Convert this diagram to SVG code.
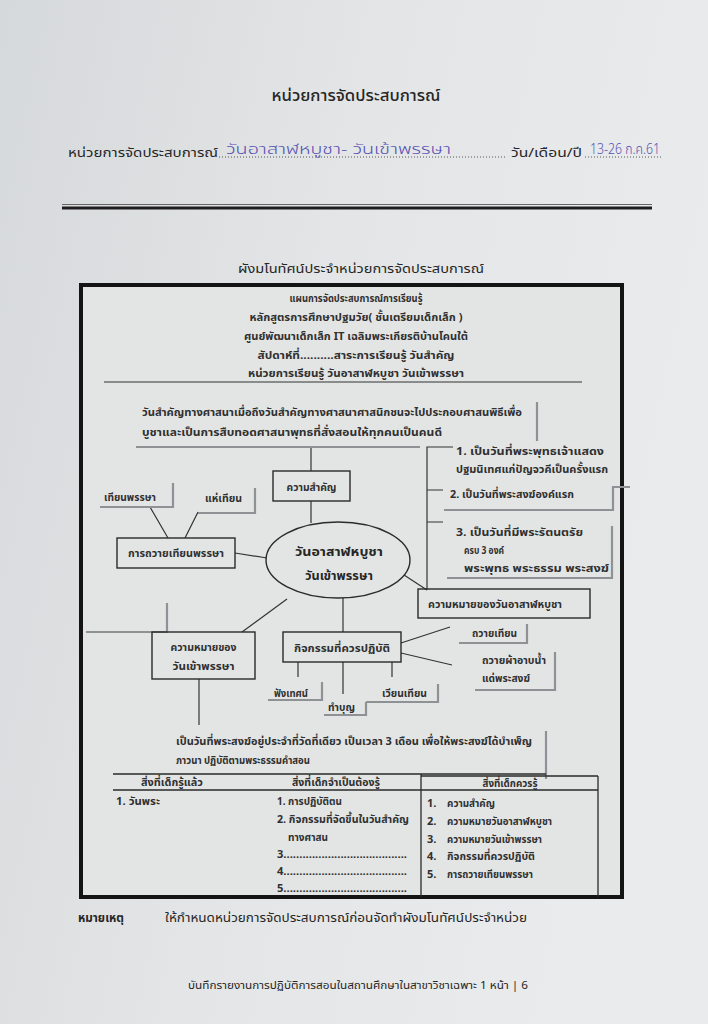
<svg xmlns="http://www.w3.org/2000/svg" width="708" height="1024" viewBox="0 0 708 1024">
<defs>
<linearGradient id="paper" x1="0" y1="0" x2="1" y2="0.3">
<stop offset="0" stop-color="#d6d9db"/>
<stop offset="0.5" stop-color="#e3e5e6"/>
<stop offset="1" stop-color="#eaebec"/>
</linearGradient>
<style>
text{font-family:"Noto Sans Thai","Noto Sans Thai UI","Loma","Garuda","Tlwg Typo","Norasi","DejaVu Sans","Noto Sans",sans-serif;fill:#262626}
.h{font-size:16px;font-weight:500}
.m{font-size:13px}
.b{font-size:11px;font-weight:bold;fill:#303030}
.c{font-size:12.5px;font-weight:bold;fill:#262626}
.hw{font-size:14px;font-weight:300;fill:#5450b2}
.node{fill:none;stroke:#2a2a2a;stroke-width:1.4}
.conn{fill:none;stroke:#333;stroke-width:1.2}
.sh{fill:none;stroke:#8f9295;stroke-width:2.2}
.tl{fill:none;stroke:#2a2a2a;stroke-width:1.3}
</style>
</defs>
<rect width="708" height="1024" fill="url(#paper)"/>

<g id="page-header">
<text class="h" x="356" y="101" text-anchor="middle" textLength="169" lengthAdjust="spacingAndGlyphs">หน่วยการจัดประสบการณ์</text>
<text class="m" x="68" y="157" textLength="150" lengthAdjust="spacingAndGlyphs">หน่วยการจัดประสบการณ์</text>
<line x1="219" y1="157" x2="506" y2="157" stroke="#555" stroke-width="1" stroke-dasharray="1 2"/>
<text class="hw" x="226" y="154" textLength="225" lengthAdjust="spacingAndGlyphs">วันอาสาฬหบูชา- วันเข้าพรรษา</text>
<text class="m" x="511" y="157" textLength="71" lengthAdjust="spacingAndGlyphs">วัน/เดือน/ปี</text>
<line x1="585" y1="157" x2="662" y2="157" stroke="#555" stroke-width="1" stroke-dasharray="1 2"/>
<text class="hw" x="590" y="154" textLength="70" lengthAdjust="spacingAndGlyphs">13-26 ก.ค.61</text>
<line x1="62" y1="204.5" x2="652" y2="204.5" stroke="#666" stroke-width="1"/>
<line x1="62" y1="208" x2="652" y2="208" stroke="#1e1e1e" stroke-width="3"/>
<text class="m" x="361" y="273" text-anchor="middle" textLength="246" lengthAdjust="spacingAndGlyphs">ผังมโนทัศน์ประจำหน่วยการจัดประสบการณ์</text>
</g>

<g id="frame">
<rect x="81" y="285" width="541" height="612" fill="#e3e5e5" stroke="#141414" stroke-width="4"/>
</g>

<g id="plan-header">
<text class="b" x="356" y="302" text-anchor="middle" textLength="133" lengthAdjust="spacingAndGlyphs">แผนการจัดประสบการณ์การเรียนรู้</text>
<text class="b" x="356" y="321" text-anchor="middle" textLength="213" lengthAdjust="spacingAndGlyphs">หลักสูตรการศึกษาปฐมวัย( ชั้นเตรียมเด็กเล็ก )</text>
<text class="b" x="356" y="340" text-anchor="middle" textLength="224" lengthAdjust="spacingAndGlyphs">ศูนย์พัฒนาเด็กเล็ก IT เฉลิมพระเกียรติบ้านโคนใต้</text>
<text class="b" x="356" y="359" text-anchor="middle" textLength="197" lengthAdjust="spacingAndGlyphs">สัปดาห์ที่..........สาระการเรียนรู้    วันสำคัญ</text>
<text class="b" x="356" y="377" text-anchor="middle" textLength="216" lengthAdjust="spacingAndGlyphs">หน่วยการเรียนรู้  วันอาสาฬหบูชา  วันเข้าพรรษา</text>
<line x1="104" y1="382" x2="582" y2="382" stroke="#333" stroke-width="1.2"/>
</g>

<g id="connectors">
<path class="conn" d="M311 447 V471 M311 501 V523"/>
<path class="conn" d="M453 447 H427 V590 M427 490 H443 M427 522 H443"/>
<path class="conn" d="M404 575 L427 590"/>
<path class="conn" d="M150 507 L168 538 M198 512 L185 538"/>
<path class="conn" d="M235 553 L267 558"/>
<path class="conn" d="M287 599 L242 632"/>
<path class="conn" d="M343 598 V632"/>
<path class="conn" d="M199 679 V725"/>
<path class="conn" d="M401 643 L450 627 M401 653 L452 665"/>
<path class="conn" d="M298 662 V677 M343 662 V694 M392 662 V677"/>
</g>

<g id="importance-text">
<path class="sh" d="M537 402 V441 M136 447 H420"/>
<text class="b" x="142" y="416" textLength="380" lengthAdjust="spacingAndGlyphs">วันสำคัญทางศาสนาเมื่อถึงวันสำคัญทางศาสนาศาสนิกชนจะไปประกอบศาสนพิธีเพื่อ</text>
<text class="b" x="142" y="436" textLength="300" lengthAdjust="spacingAndGlyphs">บูชาและเป็นการสืบทอดศาสนาพุทธที่สั่งสอนให้ทุกคนเป็นคนดี</text>
</g>

<g id="importance">
<rect class="node" x="273" y="471" width="77" height="30"/>
<text class="b" x="311.5" y="491" text-anchor="middle" textLength="50" lengthAdjust="spacingAndGlyphs">ความสำคัญ</text>
</g>

<g id="meaning-item-1">
<text class="b" x="456" y="455" textLength="148" lengthAdjust="spacingAndGlyphs">1. เป็นวันที่พระพุทธเจ้าแสดง</text>
<text class="b" x="456" y="473" textLength="152" lengthAdjust="spacingAndGlyphs">ปฐมนิเทศแก่ปัญจวคีเป็นครั้งแรก</text>
</g>
<g id="meaning-item-2">
<path class="sh" d="M630 487 H613 V510 H444"/>
<text class="b" x="450" y="498" textLength="124" lengthAdjust="spacingAndGlyphs">2. เป็นวันที่พระสงฆ์องค์แรก</text>
</g>
<g id="meaning-item-3">
<path class="sh" d="M612 526 V578 H447"/>
<text class="b" x="456" y="536" textLength="127" lengthAdjust="spacingAndGlyphs">3. เป็นวันที่มีพระรัตนตรัย</text>
<text class="b" x="464" y="554" textLength="40" lengthAdjust="spacingAndGlyphs">ครบ 3 องค์</text>
<text class="b" x="464" y="572" textLength="145" lengthAdjust="spacingAndGlyphs">พระพุทธ  พระธรรม  พระสงฆ์</text>
</g>

<g id="center">
<ellipse class="node" cx="338" cy="560" rx="72" ry="38"/>
<text class="c" x="339" y="556" text-anchor="middle" textLength="88" lengthAdjust="spacingAndGlyphs">วันอาสาฬหบูชา</text>
<text class="c" x="339" y="580" text-anchor="middle" textLength="68" lengthAdjust="spacingAndGlyphs">วันเข้าพรรษา</text>
</g>

<g id="candle-offering">
<rect class="node" x="117" y="538" width="118" height="30"/>
<text class="b" x="176" y="557" text-anchor="middle" textLength="96" lengthAdjust="spacingAndGlyphs">การถวายเทียนพรรษา</text>
</g>
<g id="candle">
<path class="sh" d="M173 483 V507 H100"/>
<text class="b" x="104" y="501" textLength="52" lengthAdjust="spacingAndGlyphs">เทียนพรรษา</text>
</g>
<g id="procession">
<path class="sh" d="M255 488 V513 H198"/>
<text class="b" x="205" y="502" textLength="37" lengthAdjust="spacingAndGlyphs">แห่เทียน</text>
</g>
<g id="empty-box">
<path class="sh" d="M167 603 V632 H86"/>
</g>

<g id="meaning-asalha">
<rect class="node" x="418" y="589" width="172" height="29"/>
<text class="b" x="428" y="608" textLength="134" lengthAdjust="spacingAndGlyphs">ความหมายของวันอาสาฬหบูชา</text>
</g>

<g id="meaning-lent">
<rect class="node" x="152" y="632" width="103" height="47"/>
<text class="b" x="203.5" y="651" text-anchor="middle" textLength="66" lengthAdjust="spacingAndGlyphs">ความหมายของ</text>
<text class="b" x="203.5" y="670" text-anchor="middle" textLength="62" lengthAdjust="spacingAndGlyphs">วันเข้าพรรษา</text>
</g>

<g id="activities">
<rect class="node" x="283" y="632" width="118" height="30"/>
<text class="b" x="342" y="652" text-anchor="middle" textLength="96" lengthAdjust="spacingAndGlyphs">กิจกรรมที่ควรปฏิบัติ</text>
</g>
<g id="act-candle">
<path class="sh" d="M527 624 V643 H459"/>
<text class="b" x="472" y="637" textLength="45" lengthAdjust="spacingAndGlyphs">ถวายเทียน</text>
</g>
<g id="act-robe">
<path class="sh" d="M555 652 V690 H475"/>
<text class="b" x="482" y="664" textLength="64" lengthAdjust="spacingAndGlyphs">ถวายผ้าอาบน้ำ</text>
<text class="b" x="482" y="682" textLength="48" lengthAdjust="spacingAndGlyphs">แด่พระสงฆ์</text>
</g>
<g id="act-sermon">
<path class="sh" d="M322 682 V700 H268"/>
<text class="b" x="274" y="697" textLength="34" lengthAdjust="spacingAndGlyphs">ฟังเทศน์</text>
</g>
<g id="act-merit">
<path class="sh" d="M366 702 V715 H324"/>
<text class="b" x="328" y="711" textLength="27" lengthAdjust="spacingAndGlyphs">ทำบุญ</text>
</g>
<g id="act-circumambulate">
<path class="sh" d="M438 684 V702 H366"/>
<text class="b" x="382" y="697" textLength="45" lengthAdjust="spacingAndGlyphs">เวียนเทียน</text>
</g>

<g id="lent-text">
<path class="sh" d="M546 731 V779"/>
<text class="b" x="176" y="745" textLength="356" lengthAdjust="spacingAndGlyphs">เป็นวันที่พระสงฆ์อยู่ประจำที่วัดที่เดียว เป็นเวลา 3 เดือน  เพื่อให้พระสงฆ์ได้บำเพ็ญ</text>
<text class="b" x="176" y="764" textLength="134" lengthAdjust="spacingAndGlyphs">ภาวนา ปฏิบัติตามพระธรรมคำสอน</text>
</g>

<g id="table">
<path class="tl" d="M113 774 H546 M421 776 H598 M113 790 H598 M421 774 V897 M598 776 V897"/>
<text class="b" x="172" y="786" text-anchor="middle" textLength="62" lengthAdjust="spacingAndGlyphs">สิ่งที่เด็กรู้แล้ว</text>
<text class="b" x="336" y="786" text-anchor="middle" textLength="88" lengthAdjust="spacingAndGlyphs">สิ่งที่เด็กจำเป็นต้องรู้</text>
<text class="b" x="510" y="787" text-anchor="middle" textLength="55" lengthAdjust="spacingAndGlyphs">สิ่งที่เด็กควรรู้</text>
<text class="b" x="116" y="805" textLength="44" lengthAdjust="spacingAndGlyphs">1. วันพระ</text>
<text class="b" x="277" y="805" textLength="65" lengthAdjust="spacingAndGlyphs">1. การปฏิบัติตน</text>
<text class="b" x="277" y="823" textLength="132" lengthAdjust="spacingAndGlyphs">2. กิจกรรมที่จัดขึ้นในวันสำคัญ</text>
<text class="b" x="288" y="841" textLength="40" lengthAdjust="spacingAndGlyphs">ทางศาสน</text>
<text class="b" x="277" y="858" textLength="130" lengthAdjust="spacingAndGlyphs">3.......................................</text>
<text class="b" x="277" y="875" textLength="130" lengthAdjust="spacingAndGlyphs">4.......................................</text>
<text class="b" x="277" y="892" textLength="130" lengthAdjust="spacingAndGlyphs">5.......................................</text>
<text class="b" x="427" y="807">1.</text>
<text class="b" x="447" y="807" textLength="48" lengthAdjust="spacingAndGlyphs">ความสำคัญ</text>
<text class="b" x="427" y="825">2.</text>
<text class="b" x="447" y="825" textLength="105" lengthAdjust="spacingAndGlyphs">ความหมายวันอาสาฬหบูชา</text>
<text class="b" x="427" y="843">3.</text>
<text class="b" x="447" y="843" textLength="95" lengthAdjust="spacingAndGlyphs">ความหมายวันเข้าพรรษา</text>
<text class="b" x="427" y="860">4.</text>
<text class="b" x="447" y="860" textLength="88" lengthAdjust="spacingAndGlyphs">กิจกรรมที่ควรปฏิบัติ</text>
<text class="b" x="427" y="878">5.</text>
<text class="b" x="447" y="878" textLength="86" lengthAdjust="spacingAndGlyphs">การถวายเทียนพรรษา</text>
</g>

<g id="footer">
<text class="m" x="78" y="922" font-weight="bold" textLength="46" lengthAdjust="spacingAndGlyphs">หมายเหตุ</text>
<text class="m" x="165" y="922" textLength="362" lengthAdjust="spacingAndGlyphs">ให้กำหนดหน่วยการจัดประสบการณ์ก่อนจัดทำผังมโนทัศน์ประจำหน่วย</text>
<text x="188" y="989" font-size="11" textLength="340" lengthAdjust="spacingAndGlyphs">บันทึกรายงานการปฏิบัติการสอนในสถานศึกษาในสาขาวิชาเฉพาะ 1   หน้า |   6</text>
</g>
</svg>
